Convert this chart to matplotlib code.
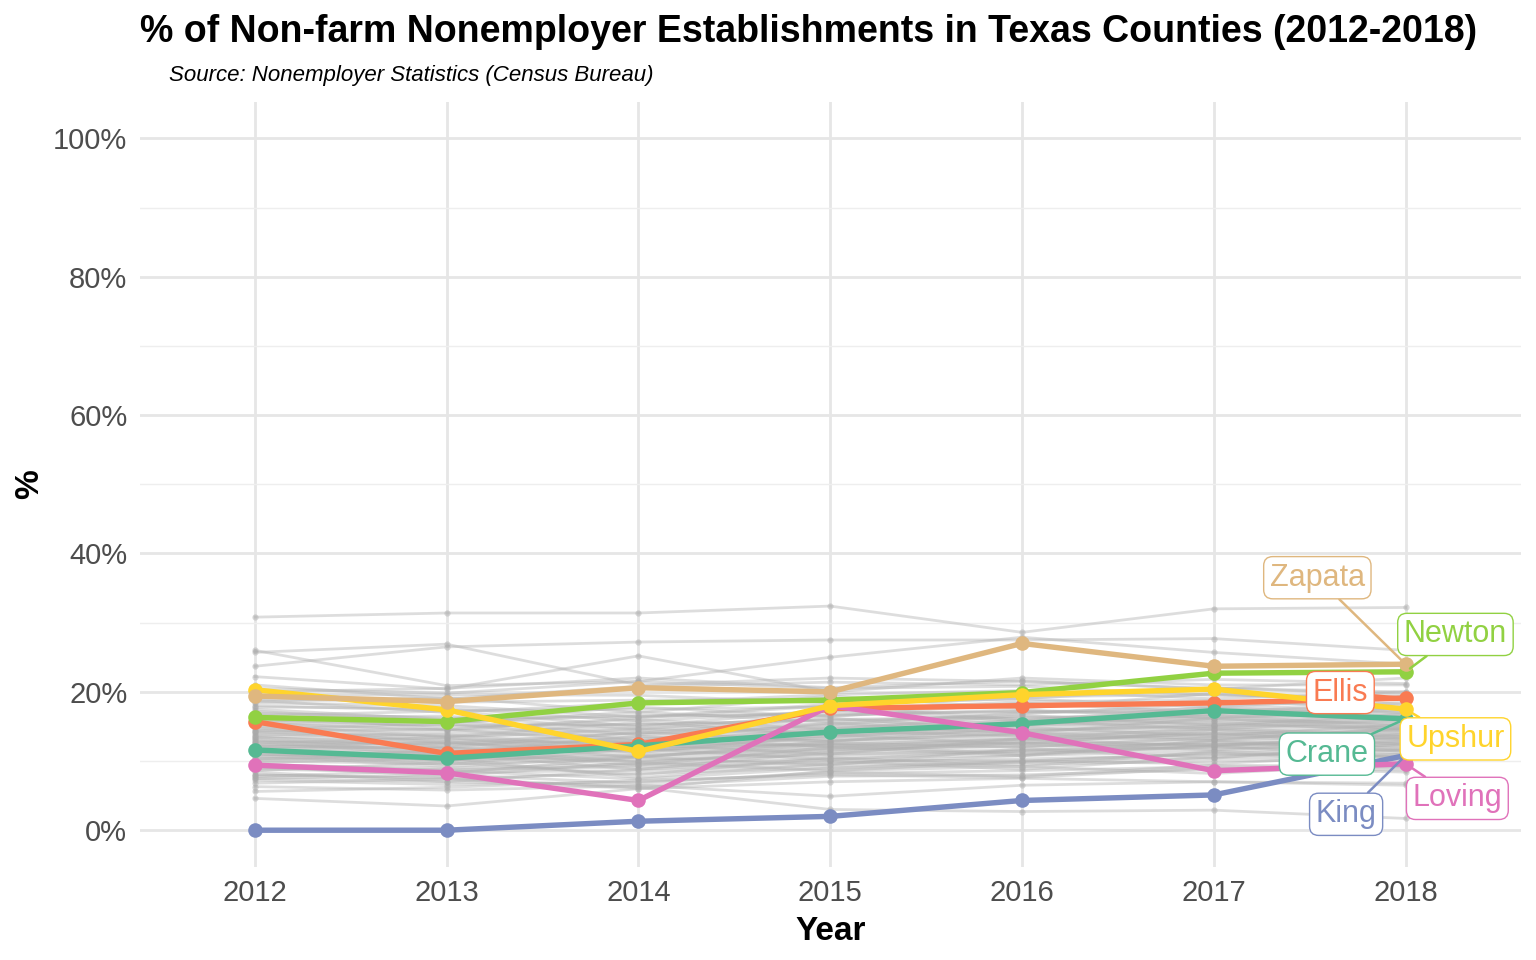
import matplotlib
matplotlib.use("Agg")
import matplotlib.pyplot as plt
from matplotlib.ticker import FixedLocator, FuncFormatter

plt.rcParams["font.family"] = ["Liberation Sans", "DejaVu Sans"]

years = [2012, 2013, 2014, 2015, 2016, 2017, 2018]

# highlighted counties (% of establishments)
ellis = [15.7, 11.1, 12.4, 17.6, 18.0, 18.4, 19.1]
crane = [11.6, 10.4, 12.2, 14.2, 15.4, 17.3, 16.1]
king = [0.0, 0.0, 1.3, 2.0, 4.3, 5.1, 10.8]
loving = [9.4, 8.3, 4.3, 18.0, 14.1, 8.6, 9.6]
newton = [16.3, 15.7, 18.4, 18.8, 19.9, 22.7, 22.9]
upshur = [20.3, 17.4, 11.4, 18.0, 19.6, 20.4, 17.5]
zapata = [19.4, 18.6, 20.6, 20.0, 27.0, 23.7, 24.0]

# other Texas counties (grey background)
others = [
    [30.8, 31.4, 31.4, 32.4, 28.6, 32.0, 32.2],
    [26.0, 20.9, 21.5, 20.5, 20.8, 19.5, 19.0],
    [23.7, 26.5, 27.2, 27.5, 27.5, 27.7, 26.0],
    [25.7, 26.9, 21.0, 22.0, 21.5, 20.5, 20.0],
    [22.2, 20.4, 25.2, 20.0, 22.0, 21.0, 21.0],
    [20.5, 19.8, 21.5, 25.0, 27.9, 25.7, 24.0],
    [4.6, 3.5, 6.0, 7.0, 7.5, 7.0, 6.8],
    [7.5, 7.0, 6.5, 4.9, 6.5, 7.0, 6.5],
    [8.0, 7.5, 6.2, 3.0, 2.7, 2.9, 1.7],
    [8.0, 7.5, 8.2, 9.0, 9.5, 10.0, 10.2],
    [9.0, 8.8, 9.1, 9.8, 10.3, 10.9, 11.0],
    [10.0, 9.6, 10.2, 10.8, 11.2, 11.8, 12.0],
    [11.0, 10.5, 11.0, 11.6, 12.1, 12.6, 12.8],
    [12.0, 11.4, 11.9, 12.5, 13.0, 13.5, 13.4],
    [13.0, 12.2, 12.8, 13.3, 13.9, 14.3, 14.1],
    [14.0, 13.1, 13.5, 14.2, 14.6, 15.0, 14.9],
    [15.0, 14.0, 14.4, 15.0, 15.4, 15.8, 15.6],
    [16.0, 15.0, 15.3, 15.9, 16.2, 16.7, 16.3],
    [17.0, 16.2, 16.4, 16.9, 17.1, 17.6, 17.2],
    [18.0, 17.3, 17.5, 17.8, 18.2, 18.5, 18.0],
    [19.0, 18.5, 18.8, 19.0, 19.3, 19.6, 19.2],
    [7.2, 6.6, 7.0, 8.2, 8.6, 9.2, 9.0],
    [6.3, 5.8, 6.4, 7.8, 8.0, 8.8, 8.7],
    [8.6, 9.8, 8.0, 10.5, 9.2, 11.4, 10.6],
    [9.5, 8.2, 10.6, 9.4, 11.8, 10.4, 12.5],
    [10.6, 11.5, 9.4, 12.0, 10.8, 13.0, 11.8],
    [11.5, 10.0, 12.4, 11.0, 13.2, 12.1, 13.9],
    [12.6, 13.4, 11.2, 13.8, 12.4, 14.5, 13.2],
    [13.5, 12.0, 14.2, 12.8, 14.9, 13.6, 15.3],
    [14.6, 15.4, 13.0, 15.5, 14.0, 16.2, 14.6],
    [15.5, 14.5, 16.0, 14.6, 16.6, 15.2, 16.8],
    [16.6, 17.2, 15.0, 17.4, 15.8, 17.9, 16.4],
    [17.5, 16.0, 17.8, 16.4, 18.4, 17.0, 18.5],
    [18.6, 19.2, 17.0, 19.4, 17.6, 19.8, 18.2],
    [7.8, 8.6, 7.4, 9.0, 10.0, 9.6, 11.0],
    [9.2, 7.8, 9.8, 8.6, 9.9, 11.2, 9.8],
    [10.3, 11.0, 8.8, 11.3, 12.6, 11.6, 12.9],
    [11.2, 9.5, 11.8, 10.2, 11.5, 12.8, 11.4],
    [12.3, 12.8, 10.5, 12.9, 14.0, 13.2, 14.6],
    [13.2, 11.2, 13.6, 12.0, 13.2, 14.8, 13.6],
    [14.3, 14.6, 12.6, 14.8, 15.8, 14.6, 16.0],
    [15.2, 13.5, 15.6, 13.8, 15.2, 16.6, 15.0],
    [16.3, 16.5, 14.6, 16.6, 17.4, 16.2, 17.6],
    [17.2, 15.5, 17.1, 15.6, 16.8, 18.3, 16.9],
    [18.4, 18.0, 16.4, 18.2, 19.0, 17.8, 19.4],
    [8.4, 7.0, 8.8, 10.0, 8.8, 10.6, 11.6],
    [9.8, 10.4, 7.6, 9.6, 10.8, 12.2, 10.4],
    [10.8, 9.2, 10.6, 12.4, 11.0, 12.3, 13.4],
    [11.8, 12.0, 9.8, 11.6, 12.8, 14.0, 12.4],
    [12.8, 10.8, 12.2, 14.4, 13.6, 13.0, 14.8],
    [13.8, 13.8, 11.8, 13.4, 15.2, 15.6, 14.4],
    [14.8, 12.6, 14.0, 16.2, 14.4, 15.0, 16.4],
    [15.8, 15.8, 13.8, 15.2, 17.0, 17.2, 15.8],
    [16.8, 14.6, 16.2, 18.0, 16.0, 16.8, 17.8],
    [17.8, 17.6, 15.8, 17.2, 18.6, 18.8, 17.4],
    [6.8, 7.4, 6.0, 8.6, 9.2, 8.2, 9.6],
    [5.6, 6.2, 7.2, 8.0, 7.6, 9.0, 8.4],
    [18.8, 17.0, 18.4, 19.6, 20.2, 19.0, 20.0],
    [19.5, 19.6, 19.5, 18.4, 19.0, 20.6, 19.6],
    [21.0, 19.0, 20.8, 21.4, 21.0, 21.8, 21.2],
    [20.0, 20.5, 22.0, 20.6, 21.6, 20.4, 22.0],
    [7.5, 8.0, 6.8, 8.4, 7.8, 9.4, 9.2],
    [12.2, 11.8, 12.6, 12.2, 12.6, 12.4, 12.6],
    [9.4, 9.0, 9.6, 10.4, 10.8, 11.4, 11.6],
    [10.4, 10.0, 10.6, 11.2, 11.6, 12.2, 12.4],
    [11.4, 11.0, 11.4, 12.0, 12.6, 13.0, 13.2],
    [12.4, 11.8, 12.2, 12.9, 13.4, 13.9, 13.8],
    [13.4, 12.6, 13.2, 13.8, 14.2, 14.6, 14.5],
    [14.4, 13.6, 14.0, 14.6, 15.0, 15.4, 15.2],
    [15.4, 14.4, 14.8, 15.4, 15.8, 16.2, 16.0],
    [8.8, 8.4, 8.6, 9.4, 9.8, 10.4, 10.6],
    [10.2, 10.8, 10.0, 11.0, 11.4, 12.0, 11.6],
    [11.6, 11.2, 11.6, 12.6, 12.0, 13.4, 13.0],
    [12.8, 12.4, 13.0, 13.0, 13.8, 14.0, 14.2],
    [13.6, 13.0, 12.6, 13.6, 14.4, 15.2, 14.8],
    [14.2, 13.4, 14.6, 14.0, 15.6, 16.0, 15.4],
    [15.6, 15.2, 15.2, 16.0, 16.4, 16.4, 16.6],
    [16.4, 15.6, 16.6, 16.6, 17.2, 17.0, 17.0],
    [9.6, 8.6, 9.4, 10.2, 10.0, 11.0, 11.2],
    [11.0, 10.2, 10.8, 11.8, 12.2, 12.4, 12.2],
    [12.0, 12.6, 11.6, 12.4, 13.2, 13.8, 13.6],
]

highlight = [
    ("Ellis", ellis, "#F97B52"),
    ("Crane", crane, "#55B993"),
    ("King", king, "#7B8CC2"),
    ("Loving", loving, "#E072BA"),
    ("Newton", newton, "#91D142"),
    ("Upshur", upshur, "#FFD42C"),
    ("Zapata", zapata, "#DFB77F"),
]

# label box positions (data coords), like ggrepel output
label_pos = {
    "Zapata": (2017.54, 36.5),
    "Newton": (2018.26, 28.3),
    "Ellis": (2017.66, 19.9),
    "Upshur": (2018.26, 13.2),
    "Crane": (2017.59, 11.0),
    "King": (2017.69, 2.3),
    "Loving": (2018.27, 4.6),
}

fig = plt.figure(figsize=(15.36, 9.6), dpi=100)
ax = fig.add_axes([0.091, 0.097, 0.899, 0.797])

for vals in others:
    ax.plot(years, vals, color="#B0B0B0", lw=2.0, alpha=0.42, zorder=2,
            marker="o", ms=4.5, mec="none", mfc="#A8A8A8")

for name, vals, col in highlight:
    ax.plot(years, vals, color=col, lw=3.9, zorder=4,
            marker="o", ms=10.5, mec="none")

for name, vals, col in highlight:
    ax.annotate(name, xy=(years[-1], vals[-1]), xytext=label_pos[name],
                fontsize=22, color=col, ha="center", va="center", zorder=6,
                bbox=dict(boxstyle="round,pad=0.2,rounding_size=0.3",
                          fc="white", ec=col, lw=1.0),
                arrowprops=dict(arrowstyle="-", color=col, lw=1.8,
                                shrinkA=0, shrinkB=4))

ax.set_xlim(2011.4, 2018.6)
ax.set_ylim(-5.3, 105.3)
ax.set_xticks(years)
ax.yaxis.set_major_locator(FixedLocator([0, 20, 40, 60, 80, 100]))
ax.yaxis.set_minor_locator(FixedLocator([10, 30, 50, 70, 90]))
ax.yaxis.set_major_formatter(FuncFormatter(lambda v, p: f"{v:.0f}%"))
ax.grid(True, which="major", color="#E6E6E6", lw=2.0, zorder=0)
ax.grid(True, which="minor", axis="y", color="#EEEEEE", lw=1.0, zorder=0)
ax.set_axisbelow(True)
for s in ax.spines.values():
    s.set_visible(False)
ax.tick_params(which="both", length=0, labelsize=21, labelcolor="#4D4D4D", pad=9)

ax.set_xlabel("Year", fontsize=24, fontweight="bold", labelpad=6)
ax.set_ylabel("%", fontsize=24, fontweight="bold", labelpad=6)

fig.text(0.091, 0.967, "% of Non-farm Nonemployer Establishments in Texas Counties (2012-2018)",
         fontsize=27, fontweight="bold", ha="left", va="center")
fig.text(0.110, 0.921, "Source: Nonemployer Statistics (Census Bureau)",
         fontsize=16, style="italic", ha="left", va="center")

fig.savefig("out.png", dpi=100)
